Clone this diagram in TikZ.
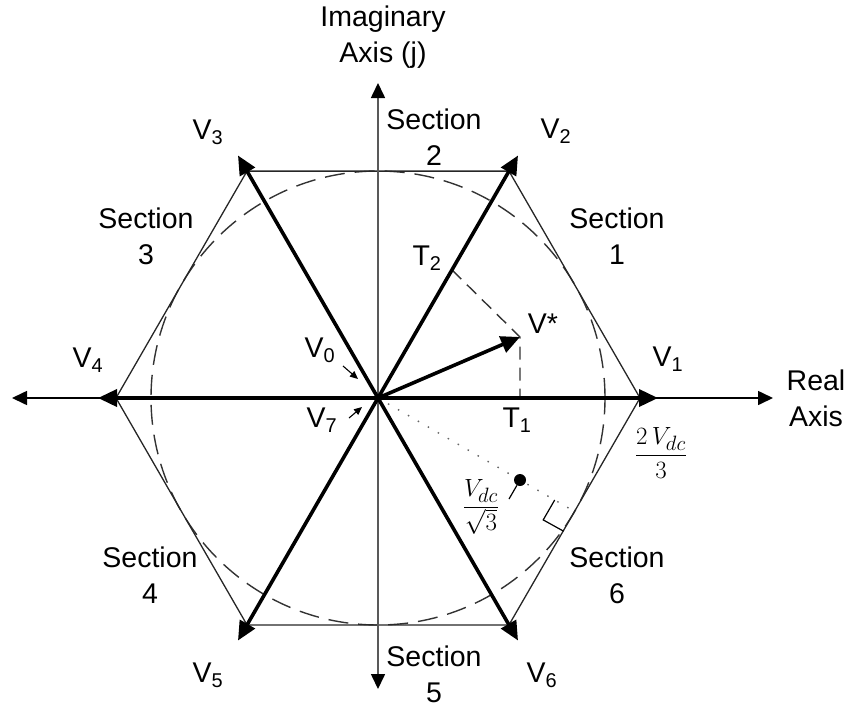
\documentclass[tikz,border=0pt]{standalone}
\usepackage{fontspec}
\setmainfont{Liberation Sans}
\usetikzlibrary{arrows.meta}
\begin{document}
\begin{tikzpicture}[x=1pt,y=-1pt,
  lbl/.style={inner sep=0pt, align=center, font=\fontsize{28.5}{36}\selectfont},
  mathlbl/.style={inner sep=0pt, font=\fontsize{28}{32}\selectfont},
  hexedge/.style={line width=1.3pt, black!85},
  vec/.style={line width=3.6pt, -{Triangle[length=19pt,width=17pt]}},
  axisline/.style={line width=1.6pt, -{Triangle[length=15pt,width=14pt,color=black]}},
  dashcirc/.style={line width=1.4pt, dash pattern=on 20pt off 10pt, black!80},
  dashproj/.style={line width=1.4pt, dash pattern=on 13pt off 8pt, black!80},
  dotline/.style={line width=1.4pt, dash pattern=on 1.5pt off 10pt, black!60},
  smallarr/.style={line width=1.1pt, -{Triangle[length=8pt,width=7pt]}},
  thinline/.style={line width=1.2pt},
]
\path[use as bounding box] (0,0) rectangle (851,707);

% centre and hexagon vertices
\coordinate (O) at (378,398);
\coordinate (h1) at (640,398);
\coordinate (h2) at (509,171.1);
\coordinate (h3) at (247,171.1);
\coordinate (h4) at (116,398);
\coordinate (h5) at (247,624.9);
\coordinate (h6) at (509,624.9);
% vector tips
\coordinate (t1) at (658,398);
\coordinate (t2) at (518,155.5);
\coordinate (t3) at (238,155.5);
\coordinate (t4) at (98,398);
\coordinate (t5) at (238,640.5);
\coordinate (t6) at (518,640.5);
% axis ends
\coordinate (xl) at (12,398);
\coordinate (xr) at (773,398);
\coordinate (yt) at (378,83);
\coordinate (yb) at (378,689);

% inscribed circle
\draw[dashcirc] (O) circle[radius=227pt];

% hexagon
\draw[hexedge] (h1) -- (h2) -- (h3) -- (h4) -- (h5) -- (h6) -- cycle;

% axes
\draw[axisline] (O) -- (xr);
\draw[axisline] (O) -- (xl);
\draw[axisline, black!65] (O) -- (yt);
\draw[axisline, black!65] (O) -- (yb);

% projections of V*
\coordinate (vs) at (520,337);
\coordinate (T2p) at (452,270);
\coordinate (T1p) at (520,398);
\draw[dashproj] (T2p) -- (vs) -- (T1p);

% dotted radius with right-angle mark
\coordinate (F) at (574.6,511.5);
\coordinate (m1) at (554.7,500);
\coordinate (m2) at (543.2,519.9);
\coordinate (m3) at (563.6,531.2);
\draw[dotline] (O) -- (F);
\draw[thinline] (m1) -- (m2) -- (m3);

% dot with leader
\node[circle, fill=black, inner sep=0pt, minimum size=12pt] (dot) at (520,480) {};
\coordinate (lead) at (509,499);
\draw[thinline] (dot) -- (lead);

% space vectors
\draw[vec] (O) -- (t1);
\draw[vec] (O) -- (t2);
\draw[vec] (O) -- (t3);
\draw[vec] (O) -- (t4);
\draw[vec] (O) -- (t5);
\draw[vec] (O) -- (t6);
\draw[vec] (O) -- (vs);

% zero vectors pointers
\coordinate (a0s) at (343,366);
\coordinate (a0e) at (358,379);
\coordinate (a7s) at (349,418);
\coordinate (a7e) at (362,407);
\draw[smallarr] (a0s) -- (a0e);
\draw[smallarr] (a7s) -- (a7e);

% labels
\node[lbl] (imag) at (383,37) {Imaginary\\Axis (j)};
\node[lbl] (real) at (816,398) {Real\\Axis};
\node[lbl] (s1) at (617,236) {Section\\1};
\node[lbl] (s2) at (434,137) {Section\\2};
\node[lbl] (s3) at (146,236) {Section\\3};
\node[lbl] (s4) at (150,575) {Section\\4};
\node[lbl] (s5) at (434,674) {Section\\5};
\node[lbl] (s6) at (617,575) {Section\\6};

\node[lbl] (lv1) at (668,359) {V\textsubscript{1}};
\node[lbl] (lv2) at (556,131) {V\textsubscript{2}};
\node[lbl] (lv3) at (208,132) {V\textsubscript{3}};
\node[lbl] (lv4) at (88,360) {V\textsubscript{4}};
\node[lbl] (lv5) at (208,675) {V\textsubscript{5}};
\node[lbl] (lv6) at (542,675) {V\textsubscript{6}};
\node[lbl] (lv0) at (320,350) {V\textsubscript{0}};
\node[lbl] (lv7) at (322,420) {V\textsubscript{7}};
\node[lbl] (lvs) at (543,324) {V*};
\node[lbl] (lt1) at (517,420) {T\textsubscript{1}};
\node[lbl] (lt2) at (427,258) {T\textsubscript{2}};

\node[mathlbl] (f1) at (661,453) {$\displaystyle\frac{2\,V_{dc}}{3}$};
\node[mathlbl] (f2) at (481,507) {$\displaystyle\frac{V_{dc}}{\sqrt{3}}$};
\end{tikzpicture}
\end{document}
